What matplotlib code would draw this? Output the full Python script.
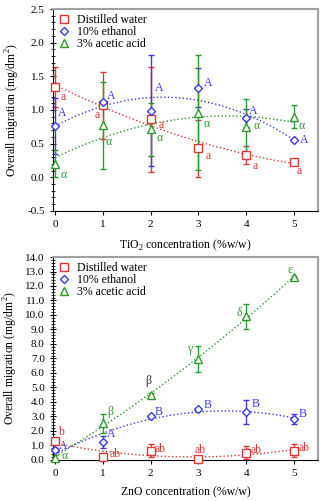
import numpy as np
import matplotlib
matplotlib.use('Agg')
import matplotlib.pyplot as plt
from matplotlib.ticker import MultipleLocator, FormatStrFormatter

plt.rcParams['font.family'] = ['Liberation Serif', 'DejaVu Serif']
plt.rcParams['mathtext.fontset'] = 'custom'
plt.rcParams['mathtext.rm'] = 'Liberation Serif'

# ---------------- data ----------------
conc = [0, 1, 2, 3, 4, 5]
series_names = ['Distilled water', '10% ethanol', '3% acetic acid']

# TiO2 films
tio2_water = [1.34, 1.07, 0.86, 0.43, 0.33, 0.23]
tio2_water_err = [0.30, 0.50, 0.78, 0.42, 0.14, 0.0]
tio2_ethanol = [0.76, 1.12, 0.99, 1.33, 0.88, 0.55]
tio2_ethanol_err = [0.42, 0.0, 0.82, 0.29, 0.13, 0.0]
tio2_acetic = [0.20, 0.77, 0.71, 0.96, 0.74, 0.90]
tio2_acetic_err = [0.20, 0.64, 0.40, 0.85, 0.43, 0.17]
tio2_water_lbl = ['a', 'a', 'a', 'a', 'a', 'a']
tio2_ethanol_lbl = ['A', 'A', 'A', 'A', 'A', 'A']
tio2_acetic_lbl = ['\u03b1'] * 6

# ZnO films
zno_water = [1.31, 0.19, 0.64, 0.03, 0.51, 0.64]
zno_water_err = [0.0, 0.0, 0.47, 0.0, 0.47, 0.45]
zno_ethanol = [0.69, 1.22, 3.04, 3.52, 3.30, 2.83]
zno_ethanol_err = [0.15, 0.42, 0.0, 0.0, 0.80, 0.33]
zno_acetic = [0.16, 2.52, 4.49, 6.96, 9.90, 12.62]
zno_acetic_err = [0.15, 0.63, 0.15, 0.92, 0.85, 0.1]
zno_water_lbl = ['b', 'ab', 'ab', 'ab', 'ab', 'ab']
zno_ethanol_lbl = ['A', 'A', 'B', 'B', 'B', 'B']
zno_acetic_lbl = ['\u03b1', '\u03b2', '\u03b2', '\u03b3', '\u03b4', '\u03b5']

red = '#e03535'
blue = '#3a3ae6'
green = '#2e9a2e'
colors = [red, blue, green]
markers = ['s', 'D', '^']
msizes = [6, 4, 5.5]

# label offsets (points) for the letters next to each point
off_top = [
    [(4, -9), (-6, -9), (6, -6), (5, -8), (5, -10), (2, -9)],
    [(2, 7), (3, 2), (3, 14), (4, 1), (2, 3), (4, -2)],
    [(4, -10), (2, -14), (4, -8), (4, -10), (5, -1), (3, -9)],
]
off_bot = [
    [(2, 4), (5, 0), (3, -1), (-3, 5), (3, 0), (3, 0)],
    [(3, 1), (3, 4), (3, 0.5), (4, 1), (4, 3.5), (3, 1.5)],
    [(5, -1), (3, 6), (-4, 8), (-8, 5), (-7, 0), (-5, 3)],
]


def draw_panel(ax, ys, errs, lbls, offs, ylim, major, minor, fmt, xlabel):
    xs = np.array(conc)
    xfit = np.linspace(0, 5, 100)
    for i in range(3):
        y = np.array(ys[i])
        p = np.polyfit(xs, y, 2)
        ax.plot(xfit, np.polyval(p, xfit), ':', color=colors[i], lw=1.0)
    for i in range(3):
        ax.errorbar(xs, ys[i], yerr=errs[i], fmt='none', ecolor=colors[i],
                    elinewidth=1.0, capsize=2.5, capthick=1.0, clip_on=False)
        ax.plot(xs, ys[i], linestyle='none', marker=markers[i], ms=msizes[i],
                mfc='white', mec=colors[i], mew=1.0, clip_on=False,
                label=series_names[i], zorder=5)
        for j in range(len(xs)):
            c = colors[i]
            if lbls[i][j] == '\u03b2' and j == 2:
                c = '#333333'
            ax.annotate(lbls[i][j], (xs[j], ys[i][j]), xytext=offs[i][j],
                        textcoords='offset points', color=c, fontsize=8.5)
    ax.set_xlim(-0.04, 5.5)
    ax.set_ylim(*ylim)
    ax.set_xticks(conc)
    ax.yaxis.set_major_locator(MultipleLocator(major))
    ax.yaxis.set_minor_locator(MultipleLocator(minor))
    ax.yaxis.set_major_formatter(FormatStrFormatter(fmt))
    ax.tick_params(axis='y', which='both', direction='inout', labelsize=8)
    ax.tick_params(axis='y', which='major', length=5)
    ax.tick_params(axis='y', which='minor', length=3)
    ax.tick_params(axis='x', direction='out', length=3, labelsize=8)
    ax.tick_params(right=False, top=False)
    for s in ['top', 'right']:
        ax.spines[s].set_color('#a0a0a0')
        ax.spines[s].set_linewidth(1.5)
    ax.set_xlabel(xlabel, fontsize=8.5, labelpad=6)
    ax.set_ylabel('Overall migration (mg/dm$^2$)', fontsize=8.5)
    ax.legend(loc='upper left', frameon=False, fontsize=8.5, handletextpad=0.5,
              labelspacing=0.0, borderaxespad=0.1, borderpad=0.3,
              handlelength=1.1)


fig = plt.figure(figsize=(3.26, 5.01), dpi=100)
ax1 = fig.add_axes([0.163, 0.579, 0.812, 0.403])
ax2 = fig.add_axes([0.163, 0.082, 0.812, 0.405])

draw_panel(ax1, [tio2_water, tio2_ethanol, tio2_acetic],
           [tio2_water_err, tio2_ethanol_err, tio2_acetic_err],
           [tio2_water_lbl, tio2_ethanol_lbl, tio2_acetic_lbl], off_top,
           (-0.5, 2.5), 0.5, 0.1, '%.1f', 'TiO$_2$ concentration (%w/w)')
draw_panel(ax2, [zno_water, zno_ethanol, zno_acetic],
           [zno_water_err, zno_ethanol_err, zno_acetic_err],
           [zno_water_lbl, zno_ethanol_lbl, zno_acetic_lbl], off_bot,
           (0, 14), 1.0, 0.2, '%.1f', 'ZnO concentration (%w/w)')

fig.savefig('out.png', dpi=100)
